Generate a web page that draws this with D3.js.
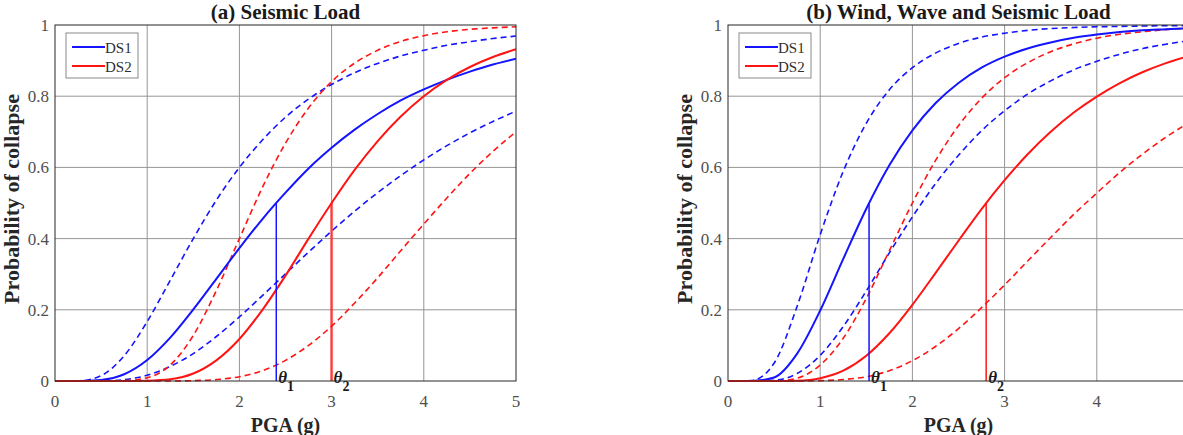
<!DOCTYPE html>
<html>
<head>
<meta charset="utf-8">
<script src="https://cdn.jsdelivr.net/npm/d3@7"></script>
<style>
  body { margin: 0; background: #fff; overflow: hidden; }
  text { font-family: "Liberation Serif", "Times New Roman", serif; }
</style>
</head>
<body>
<svg id="chart"></svg>
<script>
'use strict';

// PGA sample points (g)
const pga = [0, 0.25, 0.5, 0.75, 1, 1.25, 1.5, 1.75, 2, 2.25, 2.5, 2.75, 3, 3.25, 3.5, 3.75, 4, 4.25, 4.5, 4.75, 5];

// (a) Seismic load
const seismicDS1      = [0, 0, 0.003, 0.019, 0.059, 0.122, 0.201, 0.287, 0.373, 0.455, 0.529, 0.597, 0.655, 0.706, 0.750, 0.788, 0.819, 0.846, 0.869, 0.889, 0.905];
const seismicDS1Upper = [0, 0, 0.015, 0.071, 0.167, 0.283, 0.400, 0.508, 0.600, 0.677, 0.741, 0.792, 0.833, 0.866, 0.892, 0.913, 0.929, 0.943, 0.953, 0.962, 0.969];
const seismicDS1Lower = [0, 0, 0, 0.004, 0.016, 0.041, 0.077, 0.125, 0.180, 0.240, 0.301, 0.362, 0.421, 0.477, 0.529, 0.577, 0.621, 0.661, 0.697, 0.729, 0.758];
const seismicDS2      = [0, 0, 0, 0, 0.001, 0.005, 0.021, 0.058, 0.118, 0.200, 0.296, 0.400, 0.500, 0.593, 0.674, 0.743, 0.800, 0.846, 0.882, 0.910, 0.932];
const seismicDS2Upper = [0, 0, 0, 0.001, 0.009, 0.045, 0.128, 0.254, 0.400, 0.544, 0.668, 0.767, 0.841, 0.893, 0.929, 0.954, 0.970, 0.981, 0.988, 0.992, 0.995];
const seismicDS2Lower = [0, 0, 0, 0, 0, 0, 0.001, 0.004, 0.012, 0.029, 0.058, 0.100, 0.154, 0.219, 0.290, 0.366, 0.441, 0.514, 0.583, 0.645, 0.700];
const seismicTheta = [2.4, 3.0];

// (b) Wind, wave and seismic load
const combinedDS1      = [0, 0, 0.010, 0.077, 0.198, 0.343, 0.484, 0.606, 0.704, 0.780, 0.837, 0.880, 0.911, 0.934, 0.951, 0.964, 0.973, 0.980, 0.985, 0.988, 0.991];
const combinedDS1Upper = [0, 0.001, 0.050, 0.210, 0.411, 0.589, 0.724, 0.818, 0.880, 0.921, 0.948, 0.966, 0.977, 0.985, 0.990, 0.993, 0.995, 0.996, 0.997, 0.998, 0.998];
const combinedDS1Lower = [0, 0, 0.002, 0.021, 0.072, 0.153, 0.253, 0.360, 0.461, 0.554, 0.634, 0.703, 0.759, 0.806, 0.843, 0.874, 0.898, 0.918, 0.934, 0.946, 0.956];
const combinedDS2      = [0, 0, 0, 0.001, 0.008, 0.029, 0.071, 0.134, 0.214, 0.303, 0.394, 0.483, 0.564, 0.637, 0.700, 0.754, 0.799, 0.837, 0.868, 0.893, 0.913];
const combinedDS2Upper = [0, 0, 0, 0.008, 0.045, 0.120, 0.232, 0.366, 0.500, 0.619, 0.717, 0.794, 0.852, 0.894, 0.925, 0.947, 0.963, 0.974, 0.981, 0.987, 0.991];
const combinedDS2Lower = [0, 0, 0, 0, 0.001, 0.004, 0.012, 0.029, 0.057, 0.097, 0.147, 0.206, 0.270, 0.337, 0.403, 0.468, 0.528, 0.586, 0.638, 0.685, 0.726];
const combinedTheta = [1.53, 2.8];

const xTicks = [0, 1, 2, 3, 4, 5];
const yTicks = [0, 0.2, 0.4, 0.6, 0.8, 1];
const legendLabels = ['DS1', 'DS2'];
const stateColors = ['#1414ff', '#ff1414'];

const settings = { width: 1183, height: 435 };
const box = { top: 25, height: 356, width: 461 };

const svg = d3.select('#chart')
    .attr('width', settings.width)
    .attr('height', settings.height);

function drawPanel(p) {
    const x = d3.scaleLinear().domain([0, 5]).range([p.left, p.left + box.width]);
    const y = d3.scaleLinear().domain([0, 1]).range([box.top + box.height, box.top]);
    const g = svg.append('g');

    const clipId = 'clip-' + p.id;
    svg.append('clipPath').attr('id', clipId)
        .append('rect')
        .attr('x', p.left).attr('y', box.top - 2)
        .attr('width', box.width).attr('height', box.height + 3);

    // grid
    g.selectAll('.gx').data(xTicks.slice(1, -1)).enter().append('line')
        .attr('x1', d => x(d)).attr('x2', d => x(d))
        .attr('y1', y(0)).attr('y2', y(1))
        .attr('stroke', '#959595').attr('stroke-width', 1);
    g.selectAll('.gy').data(yTicks.slice(1, -1)).enter().append('line')
        .attr('x1', x(0)).attr('x2', x(5))
        .attr('y1', d => y(d)).attr('y2', d => y(d))
        .attr('stroke', '#959595').attr('stroke-width', 1);

    // tick labels (the last x label of panel b falls outside the picture)
    g.selectAll('.tx').data(xTicks.filter(d => x(d) + 5 < settings.width)).enter().append('text')
        .attr('x', d => x(d)).attr('y', y(0) + 26)
        .attr('text-anchor', 'middle')
        .attr('font-size', 17).attr('fill', '#505050')
        .text(d => d);
    g.selectAll('.ty').data(yTicks).enter().append('text')
        .attr('x', x(0) - 6).attr('y', d => y(d) + 6)
        .attr('text-anchor', 'end')
        .attr('font-size', 17).attr('fill', '#505050')
        .text(d => d);

    // curves
    const line = d3.line()
        .x((d, i) => x(pga[i]))
        .y(d => y(d))
        .curve(d3.curveMonotoneX);
    const cg = g.append('g').attr('clip-path', `url(#${clipId})`);
    p.curves.forEach(c => {
        cg.append('path')
            .attr('d', line(c.values))
            .attr('fill', 'none')
            .attr('stroke', stateColors[c.state])
            .attr('stroke-width', c.dashed ? 1.6 : 2)
            .attr('stroke-dasharray', c.dashed ? '6,4' : null);
    });

    // median markers
    p.theta.forEach((t, i) => {
        cg.append('line')
            .attr('x1', x(t)).attr('x2', x(t))
            .attr('y1', y(0)).attr('y2', y(0.5))
            .attr('stroke', stateColors[i])
            .attr('stroke-opacity', p.thetaOpacity[i])
            .attr('stroke-width', p.thetaWidth[i]);
        const lbl = g.append('text')
            .attr('x', x(t) + 2).attr('y', y(0) + 2)
            .attr('font-size', 17).attr('font-weight', 'bold').attr('fill', '#1a1a1a');
        lbl.append('tspan').attr('font-style', 'italic').text('θ');
        lbl.append('tspan').attr('dy', 8).attr('font-size', 14).text(i + 1);
    });

    // axes box
    g.append('rect')
        .attr('x', x(0)).attr('y', y(1))
        .attr('width', box.width).attr('height', box.height)
        .attr('fill', 'none').attr('stroke', '#262626').attr('stroke-width', 1);

    // legend
    const lg = g.append('g').attr('transform', `translate(${x(0) + 11},${y(1) + 8})`);
    lg.append('rect').attr('width', 72).attr('height', 45)
        .attr('fill', '#fff').attr('stroke', '#8a8a8a').attr('stroke-width', 1);
    legendLabels.forEach((l, i) => {
        lg.append('line')
            .attr('x1', 6).attr('x2', 39)
            .attr('y1', 14 + i * 19).attr('y2', 14 + i * 19)
            .attr('stroke', stateColors[i]).attr('stroke-width', 2);
        lg.append('text')
            .attr('x', 39).attr('y', 20 + i * 19)
            .attr('font-size', 15).attr('fill', '#303030')
            .text(l);
    });

    // titles
    g.append('text')
        .attr('x', x(2.5)).attr('y', 19)
        .attr('text-anchor', 'middle')
        .attr('font-size', 21).attr('font-weight', 'bold').attr('fill', '#1a1a1a')
        .text(p.title);
    g.append('text')
        .attr('x', x(2.5)).attr('y', 432)
        .attr('text-anchor', 'middle')
        .attr('font-size', 20).attr('font-weight', 'bold').attr('fill', '#262626')
        .text('PGA (g)');
    g.append('text')
        .attr('transform', `translate(${x(0) - 36},${y(0.5) - 4}) rotate(-90)`)
        .attr('text-anchor', 'middle')
        .attr('font-size', 22).attr('font-weight', 'bold').attr('fill', '#262626')
        .text('Probability of collapse');
}

drawPanel({
    id: 'a',
    left: 55,
    title: '(a) Seismic Load',
    theta: seismicTheta,
    thetaWidth: [1.5, 3],
    thetaOpacity: [1, 0.6],
    curves: [
        { values: seismicDS1Upper, state: 0, dashed: true },
        { values: seismicDS1Lower, state: 0, dashed: true },
        { values: seismicDS2Upper, state: 1, dashed: true },
        { values: seismicDS2Lower, state: 1, dashed: true },
        { values: seismicDS1, state: 0, dashed: false },
        { values: seismicDS2, state: 1, dashed: false }
    ]
});

drawPanel({
    id: 'b',
    left: 728,
    title: '(b) Wind, Wave and Seismic Load',
    theta: combinedTheta,
    thetaWidth: [1.5, 1.5],
    thetaOpacity: [1, 1],
    curves: [
        { values: combinedDS1Upper, state: 0, dashed: true },
        { values: combinedDS1Lower, state: 0, dashed: true },
        { values: combinedDS2Upper, state: 1, dashed: true },
        { values: combinedDS2Lower, state: 1, dashed: true },
        { values: combinedDS1, state: 0, dashed: false },
        { values: combinedDS2, state: 1, dashed: false }
    ]
});
</script>
</body>
</html>
